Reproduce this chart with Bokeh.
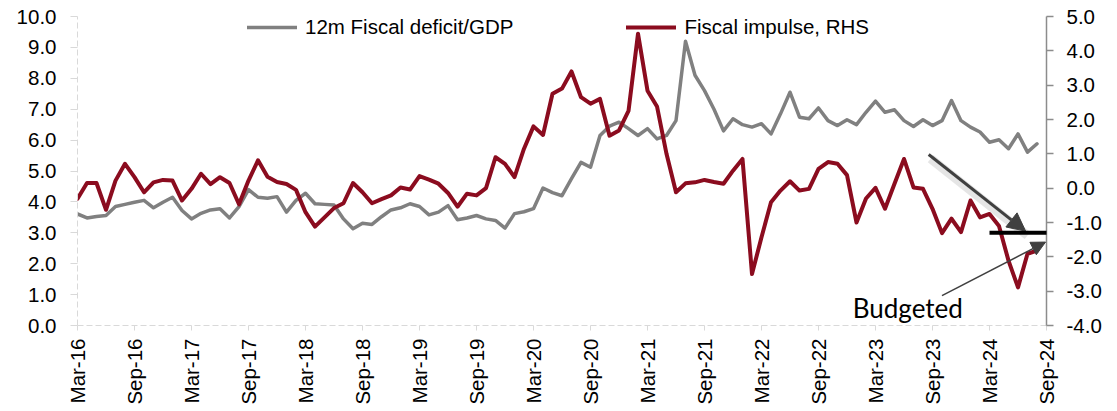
import math
import pandas as pd
from bokeh.plotting import figure
from bokeh.models import (Range1d, LinearAxis, FixedTicker, Legend, LegendItem, Arrow,
                          NormalHead, Label, ColumnDataSource, NumeralTickFormatter)
from bokeh.embed import file_html
from bokeh.resources import INLINE

# ---------------- data ----------------
months = pd.date_range("2016-03-01", periods=102, freq="MS")

tick_labels = ["Mar-16", "Sep-16", "Mar-17", "Sep-17", "Mar-18", "Sep-18", "Mar-19", "Sep-19",
               "Mar-20", "Sep-20", "Mar-21", "Sep-21", "Mar-22", "Sep-22", "Mar-23", "Sep-23",
               "Mar-24", "Sep-24"]

deficit_gdp = [3.61, 3.48, 3.53, 3.56, 3.85, 3.92, 3.99, 4.05, 3.81, 3.99,
               4.15, 3.72, 3.45, 3.63, 3.74, 3.78, 3.48, 3.85, 4.40, 4.15,
               4.12, 4.17, 3.67, 4.05, 4.28, 3.94, 3.92, 3.90, 3.45, 3.13,
               3.31, 3.27, 3.52, 3.74, 3.81, 3.94, 3.85, 3.58, 3.67, 3.88,
               3.42, 3.48, 3.56, 3.45, 3.40, 3.15, 3.62, 3.68, 3.78, 4.45,
               4.30, 4.20, 4.75, 5.28, 5.12, 6.15, 6.45, 6.58, 6.37, 6.15,
               6.37, 6.04, 6.15, 6.63, 9.20, 8.10, 7.60, 7.00, 6.30, 6.69,
               6.50, 6.42, 6.53, 6.20, 6.85, 7.55, 6.74, 6.69, 7.04, 6.63,
               6.47, 6.66, 6.50, 6.90, 7.26, 6.90, 6.98, 6.63, 6.44, 6.66,
               6.47, 6.63, 7.28, 6.63, 6.42, 6.26, 5.93, 6.01, 5.72, 6.20,
               5.61, 5.88]

fiscal_impulse = [-0.31, 0.15, 0.15, -0.63, 0.22, 0.71, 0.32, -0.12, 0.17, 0.24,
                  0.22, -0.36, -0.02, 0.42, 0.12, 0.32, 0.15, -0.47, 0.22, 0.81,
                  0.33, 0.18, 0.12, -0.05, -0.70, -1.12, -0.85, -0.58, -0.44, 0.15,
                  -0.12, -0.44, -0.32, -0.21, 0.02, -0.04, 0.35, 0.25, 0.13, -0.14,
                  -0.54, -0.16, -0.21, 0.00, 0.90, 0.71, 0.32, 1.15, 1.80, 1.55,
                  2.75, 2.90, 3.40, 2.65, 2.46, 2.60, 1.53, 1.68, 2.25, 4.50,
                  2.84, 2.38, 1.00, -0.12, 0.14, 0.17, 0.24, 0.18, 0.13, 0.51,
                  0.85, -2.50, -1.43, -0.41, -0.07, 0.20, -0.07, -0.02, 0.56, 0.76,
                  0.71, 0.38, -1.00, -0.30, 0.01, -0.60, 0.13, 0.85, 0.02, -0.02,
                  -0.60, -1.31, -0.89, -1.28, -0.36, -0.85, -0.75, -1.10, -2.11, -2.89,
                  -1.91, -1.82]

budgeted_impulse = -1.3

# ---------------- figure ----------------
x = list(range(len(months)))
src = ColumnDataSource(dict(x=x, deficit=deficit_gdp, impulse=fiscal_impulse))

FONT = "Liberation Sans"
FS = "20.5px"

p = figure(width=1117, height=411, output_backend="svg", toolbar_location=None,
           x_range=Range1d(0, 102), y_range=Range1d(0, 10),
           min_border_left=77, min_border_right=71, min_border_top=16, min_border_bottom=86)
p.outline_line_color = None
p.xgrid.visible = False
p.ygrid.visible = False
p.background_fill_color = "white"
p.border_fill_color = "white"
p.extra_y_ranges = {"rhs": Range1d(-4, 5)}

# x axis
xa = p.xaxis[0]
xa.ticker = FixedTicker(ticks=[6 * i for i in range(len(tick_labels))])
xa.major_label_overrides = {6 * i: lab for i, lab in enumerate(tick_labels)}
xa.major_label_orientation = math.pi / 2
xa.axis_line_color = "#d9d9d9"
xa.axis_line_dash = "6 3"
xa.major_tick_line_color = "#d9d9d9"
xa.major_tick_out = 5
xa.major_tick_in = 0
xa.minor_tick_line_color = None
xa.major_label_standoff = 8
xa.major_label_text_font = FONT
xa.major_label_text_font_size = FS
xa.major_label_text_color = "black"

# left axis
ya = p.yaxis[0]
ya.ticker = FixedTicker(ticks=list(range(0, 11)))
ya.formatter = NumeralTickFormatter(format="0.0")
ya.axis_line_color = "#d9d9d9"
ya.axis_line_dash = "6 3"
ya.major_tick_line_color = "#d9d9d9"
ya.major_tick_out = 7
ya.major_tick_in = 0
ya.minor_tick_line_color = None
ya.major_label_standoff = 14
ya.major_label_text_font = FONT
ya.major_label_text_font_size = FS
ya.major_label_text_color = "black"

# right axis
ra = LinearAxis(y_range_name="rhs")
ra.ticker = FixedTicker(ticks=list(range(-4, 6)))
ra.formatter = NumeralTickFormatter(format="0.0")
ra.axis_line_color = "#8c8c8c"
ra.axis_line_width = 1.5
ra.major_tick_line_color = "#8c8c8c"
ra.major_tick_line_width = 1.5
ra.major_tick_out = 7
ra.major_tick_in = 0
ra.minor_tick_line_color = None
ra.major_label_standoff = 13
ra.major_label_text_font = FONT
ra.major_label_text_font_size = FS
ra.major_label_text_color = "black"
p.add_layout(ra, "right")

# lines
g = p.line("x", "deficit", source=src, line_color="#808080", line_width=3.5,
           line_join="round", line_cap="round")
r = p.line("x", "impulse", source=src, y_range_name="rhs", line_color="#8b0c1f",
           line_width=4, line_join="round", line_cap="round")

# legend
legend = Legend(items=[LegendItem(label="12m Fiscal deficit/GDP", renderers=[g]),
                       LegendItem(label="Fiscal impulse, RHS", renderers=[r])],
                location=(170, 286), orientation="horizontal",
                glyph_width=50, glyph_height=22, label_standoff=8, spacing=113,
                padding=0, margin=0, border_line_alpha=0, background_fill_alpha=0,
                label_text_font=FONT, label_text_font_size=FS, label_text_color="black")
p.add_layout(legend)

# annotations
p.add_layout(Arrow(x_start=89.8, y_start=0.86, x_end=100.0, y_end=-1.38, y_range_name="rhs",
                   line_color="#d0d0d0", line_alpha=0.55, line_width=9, end=None))
p.add_layout(Arrow(x_start=89.6, y_start=0.98, x_end=99.8, y_end=-1.25, y_range_name="rhs",
                   line_color="#404040", line_width=3,
                   end=NormalHead(size=18, fill_color="#404040", line_color="#404040")))
p.add_layout(Arrow(x_start=96.0, y_start=budgeted_impulse, x_end=103.2, y_end=budgeted_impulse,
                   y_range_name="rhs", line_color="black", line_width=4, end=None))
p.add_layout(Arrow(x_start=91.0, y_start=-3.13, x_end=101.9, y_end=-1.57, y_range_name="rhs",
                   line_color="#404040", line_width=1.5,
                   end=NormalHead(size=14, fill_color="#404040", line_color="#404040")))
p.add_layout(Label(x=87.4, y=-3.97, y_range_name="rhs", text="Budgeted",
                   text_font="Lato", text_font_size="26px", text_align="center",
                   text_baseline="bottom", text_color="black"))

open("out.html", "w").write(file_html(p, INLINE))
